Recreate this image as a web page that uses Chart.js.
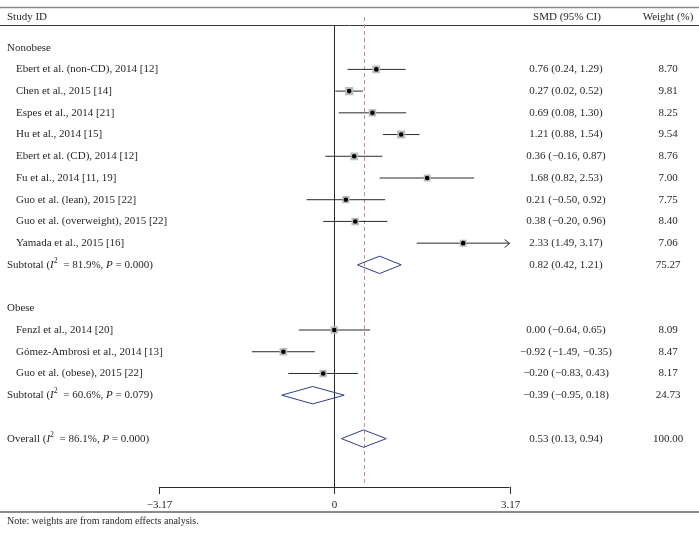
<!DOCTYPE html>
<html><head><meta charset="utf-8">
<script src="https://cdn.jsdelivr.net/npm/chart.js@4.4.1/dist/chart.umd.min.js"></script>
<style>html,body{margin:0;padding:0;background:#fff}#wrap{width:699px;height:536px;position:relative}</style>
</head><body><div id="wrap"><canvas id="c"></canvas></div>
<script>
// ---------- DATA ----------
const groupNames = ["Nonobese", "Obese"];
const studyLabels = [
  "Ebert et al. (non-CD), 2014 [12]", "Chen et al., 2015 [14]", "Espes et al., 2014 [21]",
  "Hu et al., 2014 [15]", "Ebert et al. (CD), 2014 [12]", "Fu et al., 2014 [11, 19]",
  "Guo et al. (lean), 2015 [22]", "Guo et al. (overweight), 2015 [22]", "Yamada et al., 2015 [16]",
  "Fenzl et al., 2014 [20]", "Gómez-Ambrosi et al., 2014 [13]", "Guo et al. (obese), 2015 [22]"
];
const studyGroup = [0,0,0,0,0,0,0,0,0,1,1,1];
const smd   = [0.76, 0.27, 0.69, 1.21, 0.36, 1.68, 0.21, 0.38, 2.33, 0.00, -0.92, -0.20];
const lower = [0.24, 0.02, 0.08, 0.88, -0.16, 0.82, -0.50, -0.20, 1.49, -0.64, -1.49, -0.83];
const upper = [1.29, 0.52, 1.30, 1.54, 0.87, 2.53, 0.92, 0.96, 3.17, 0.65, -0.35, 0.43];
const weights = [8.70, 9.81, 8.25, 9.54, 8.76, 7.00, 7.75, 8.40, 7.06, 8.09, 8.47, 8.17];
const subSmd = [0.82, -0.39];
const subLower = [0.42, -0.95];
const subUpper = [1.21, 0.18];
const subWeight = [75.27, 24.73];
const subI2 = ["81.9%", "60.6%"];
const subP = ["0.000", "0.079"];
const overallSmd = 0.53, overallLower = 0.13, overallUpper = 0.94, overallWeight = 100.00;
const overallI2 = "86.1%", overallP = "0.000";
const xTicks = [-3.17, 0, 3.17];
const axisMin = -3.17, axisMax = 3.17;

// ---------- ROW LAYOUT (row index per line) ----------
const rows = [];
let r = 0;
groupNames.forEach((g, gi) => {
  rows.push({type: 'group', label: g, row: r++});
  studyLabels.forEach((s, i) => { if (studyGroup[i] === gi) rows.push({type: 'study', i, row: r++}); });
  rows.push({type: 'sub', gi, row: r++});
  r++; // blank row
});
rows.push({type: 'overall', row: r++});

const studyRow = {};
rows.forEach(o => { if (o.type === 'study') studyRow[o.i] = o.row; });
const subRow = {};
rows.forEach(o => { if (o.type === 'sub') subRow[o.gi] = o.row; });
const overallRow = rows.find(o => o.type === 'overall').row;

// ---------- DATASETS built from data ----------
const ciData = [];
studyLabels.forEach((s, i) => {
  ciData.push({x: lower[i], y: studyRow[i]}, {x: Math.min(upper[i], axisMax), y: studyRow[i]}, {x: null, y: null});
});
const boxData = studyLabels.map((s, i) => ({x: smd[i], y: studyRow[i]}));
const boxRadius = weights.map(w => 1.85 * Math.sqrt(w));
const DH = 0.4; // diamond half-height in row units
const diamondData = [];
function addDiamond(est, lo, hi, row) {
  diamondData.push({x: lo, y: row}, {x: est, y: row - DH}, {x: hi, y: row}, {x: est, y: row + DH}, {x: lo, y: row}, {x: null, y: null});
}
groupNames.forEach((g, gi) => addDiamond(subSmd[gi], subLower[gi], subUpper[gi], subRow[gi]));
addDiamond(overallSmd, overallLower, overallUpper, overallRow);

// ---------- helpers ----------
const FONT = '"Liberation Serif", "DejaVu Serif", serif';
const TXT = '#231f20';
const fmt = v => (v < 0 ? '\u2212' : '') + Math.abs(v).toFixed(2);
const ciText = (e, l, h) => `${fmt(e)} (${fmt(l)}, ${fmt(h)})`;

function drawRuns(ctx, runs, x, y, size) {
  let cx = x;
  runs.forEach(rn => {
    const s = rn.sup ? size * 0.72 : size;
    ctx.font = `${rn.it ? 'italic ' : ''}${s}px ${FONT}`;
    ctx.fillText(rn.t, cx, rn.sup ? y - size * 0.38 : y);
    cx += ctx.measureText(rn.t).width;
  });
}
function hetRuns(prefix, i2, p) {
  return [{t: prefix + ' ('}, {t: 'I', it: true}, {t: '2', sup: true}, {t: '  = ' + i2 + ', '}, {t: 'P', it: true}, {t: ' = ' + p + ')'}];
}

const framePlugin = {
  id: 'frame',
  beforeDatasetsDraw(chart) {
    const ctx = chart.ctx, xs = chart.scales.x, ys = chart.scales.y;
    const W = chart.width;
    const x0 = xs.getPixelForValue(0);
    const yHeadRule = 25, yAxis = 487, yTick = 494;
    ctx.save();
    // rules
    ctx.strokeStyle = '#8a8a8a'; ctx.lineWidth = 1.5;
    ctx.beginPath(); ctx.moveTo(0, 7.5); ctx.lineTo(W, 7.5); ctx.stroke();
    ctx.strokeStyle = '#3c3c3c'; ctx.lineWidth = 1;
    ctx.beginPath(); ctx.moveTo(0, yHeadRule + 0.5); ctx.lineTo(W, yHeadRule + 0.5); ctx.stroke();
    ctx.strokeStyle = '#8a8a8a'; ctx.lineWidth = 2;
    ctx.beginPath(); ctx.moveTo(0, 512); ctx.lineTo(W, 512); ctx.stroke();
    // zero line
    ctx.strokeStyle = '#2a2a2a'; ctx.lineWidth = 1;
    ctx.beginPath(); ctx.moveTo(Math.round(x0) + 0.5, yHeadRule); ctx.lineTo(Math.round(x0) + 0.5, yTick); ctx.stroke();
    // dashed overall line
    const xo = xs.getPixelForValue(overallSmd);
    ctx.strokeStyle = '#bf8f99'; ctx.setLineDash([4, 3]);
    ctx.beginPath(); ctx.moveTo(Math.round(xo) + 0.5, 17); ctx.lineTo(Math.round(xo) + 0.5, 485); ctx.stroke();
    ctx.setLineDash([]);
    // axis
    ctx.strokeStyle = '#2a2a2a';
    const xa = xs.getPixelForValue(axisMin), xb = xs.getPixelForValue(axisMax);
    ctx.beginPath(); ctx.moveTo(xa, yAxis + 0.5); ctx.lineTo(xb, yAxis + 0.5); ctx.stroke();
    ctx.fillStyle = TXT; ctx.textBaseline = 'middle'; ctx.textAlign = 'center';
    ctx.font = `11px ${FONT}`;
    xTicks.forEach(t => {
      const px = Math.round(xs.getPixelForValue(t)) + 0.5;
      ctx.beginPath(); ctx.moveTo(px, yAxis); ctx.lineTo(px, yTick); ctx.stroke();
      ctx.fillText(t === 0 ? '0' : fmt(t), px, 505);
    });
    // header
    ctx.textAlign = 'left';
    ctx.fillText('Study ID', 7, 17);
    ctx.textAlign = 'center';
    ctx.fillText('SMD (95% CI)', 567, 17);
    ctx.fillText('Weight (%)', 668, 17);
    // rows
    rows.forEach(o => {
      const y = ys.getPixelForValue(o.row);
      ctx.font = `11px ${FONT}`;
      if (o.type === 'group') {
        ctx.textAlign = 'left'; ctx.fillText(o.label, 7, y);
      } else if (o.type === 'study') {
        const i = o.i;
        ctx.textAlign = 'left'; ctx.fillText(studyLabels[i], 16, y);
        ctx.textAlign = 'center';
        ctx.fillText(ciText(smd[i], lower[i], upper[i]), 566, y);
        ctx.fillText(weights[i].toFixed(2), 668, y);
      } else if (o.type === 'sub') {
        ctx.textAlign = 'left';
        drawRuns(ctx, hetRuns('Subtotal', subI2[o.gi], subP[o.gi]), 7, y, 11);
        ctx.font = `11px ${FONT}`; ctx.textAlign = 'center';
        ctx.fillText(ciText(subSmd[o.gi], subLower[o.gi], subUpper[o.gi]), 566, y);
        ctx.fillText(subWeight[o.gi].toFixed(2), 668, y);
      } else if (o.type === 'overall') {
        ctx.textAlign = 'left';
        drawRuns(ctx, hetRuns('Overall', overallI2, overallP), 7, y, 11);
        ctx.font = `11px ${FONT}`; ctx.textAlign = 'center';
        ctx.fillText(ciText(overallSmd, overallLower, overallUpper), 566, y);
        ctx.fillText(overallWeight.toFixed(2), 668, y);
      }
    });
    ctx.textAlign = 'left'; ctx.font = `10px ${FONT}`;
    ctx.fillText('Note: weights are from random effects analysis.', 7, 521);
    ctx.restore();
  },
  afterDatasetsDraw(chart) {
    const ctx = chart.ctx, xs = chart.scales.x, ys = chart.scales.y;
    ctx.save(); ctx.strokeStyle = '#2a2a2a'; ctx.lineWidth = 1;
    studyLabels.forEach((s, i) => {
      if (upper[i] >= axisMax) {
        const px = xs.getPixelForValue(axisMax), py = Math.round(ys.getPixelForValue(studyRow[i])) + 0.5;
        ctx.beginPath(); ctx.moveTo(px - 5, py - 4); ctx.lineTo(px, py); ctx.lineTo(px - 5, py + 4); ctx.stroke();
      }
    });
    ctx.restore();
  }
};

new Chart(document.getElementById('c'), {
  type: 'scatter',
  data: {
    datasets: [
      {data: boxData, pointStyle: 'circle', pointRadius: 2.3, backgroundColor: '#000', borderWidth: 0, order: 0},
      {data: boxData, pointStyle: 'rect', pointRadius: boxRadius, backgroundColor: '#bcbcbc', borderWidth: 0, order: 1},
      {data: ciData, showLine: true, pointRadius: 0, borderColor: '#2a2a2a', borderWidth: 1, spanGaps: false, order: 2},
      {data: diamondData, showLine: true, pointRadius: 0, borderColor: '#323a8c', borderWidth: 1, spanGaps: false, order: 3}
    ]
  },
  options: {
    responsive: true, maintainAspectRatio: false, animation: false,
    layout: {padding: 0},
    plugins: {legend: {display: false}, tooltip: {enabled: false}},
    events: [],
    scales: {
      x: {type: 'linear', display: false, min: -334 / 56.25, max: (699 - 334) / 56.25},
      y: {type: 'linear', display: false, reverse: true, min: -42.8 / 22.2, max: (536 - 42.8) / 22.2}
    }
  },
  plugins: [framePlugin]
});
</script>
</body></html>
